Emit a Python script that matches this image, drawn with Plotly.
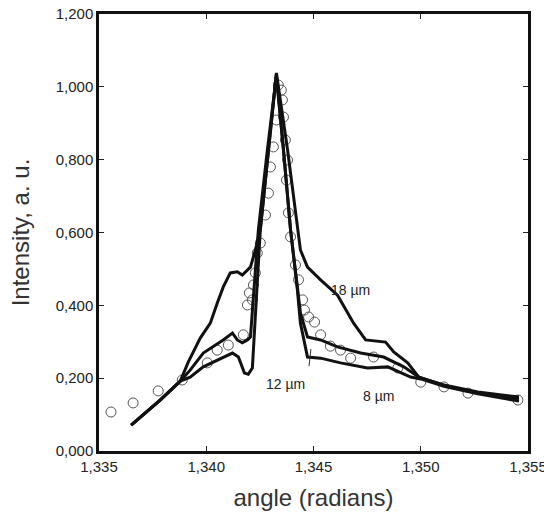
import plotly.graph_objects as go

# angle (radians) / intensity (a.u.)
x_18 = [1.33650, 1.33785, 1.33879, 1.33916, 1.33972, 1.34019, 1.34051, 1.34079,
        1.34112, 1.34145, 1.34168, 1.34206, 1.34229, 1.34252, 1.34290, 1.34327,
        1.34379, 1.34425, 1.34439, 1.34472, 1.34533, 1.34612, 1.34687, 1.34743,
        1.34836, 1.34874, 1.34939, 1.34991, 1.35108, 1.35266, 1.35458]
y_18 = [0.071, 0.140, 0.192, 0.244, 0.310, 0.351, 0.406, 0.450,
        0.489, 0.492, 0.483, 0.505, 0.552, 0.607, 0.827, 1.038,
        0.827, 0.607, 0.552, 0.505, 0.470, 0.428, 0.351, 0.305,
        0.299, 0.272, 0.242, 0.203, 0.181, 0.162, 0.148]

x_12 = [1.33650, 1.33785, 1.33879, 1.33925, 1.33986, 1.34033, 1.34079, 1.34122,
        1.34145, 1.34168, 1.34192, 1.34206, 1.34243, 1.34285, 1.34327, 1.34360,
        1.34393, 1.34421, 1.34439, 1.34472, 1.34533, 1.34612, 1.34720, 1.34827,
        1.34921, 1.34991, 1.35108, 1.35266, 1.35458]
y_12 = [0.071, 0.140, 0.192, 0.222, 0.269, 0.286, 0.305, 0.324,
        0.305, 0.297, 0.305, 0.313, 0.607, 0.827, 1.030, 0.827,
        0.607, 0.470, 0.379, 0.313, 0.305, 0.286, 0.269, 0.258,
        0.231, 0.203, 0.181, 0.159, 0.143]

x_8 = [1.33650, 1.33785, 1.33879, 1.33925, 1.33986, 1.34033, 1.34079, 1.34122,
       1.34150, 1.34178, 1.34196, 1.34215, 1.34252, 1.34290, 1.34327, 1.34360,
       1.34393, 1.34425, 1.34439, 1.34472, 1.34533, 1.34626, 1.34752, 1.34846,
       1.34953, 1.35000, 1.35108, 1.35266, 1.35458]
y_8 = [0.071, 0.140, 0.192, 0.203, 0.231, 0.244, 0.258, 0.269,
       0.258, 0.214, 0.211, 0.228, 0.607, 0.827, 1.035, 0.827,
       0.607, 0.442, 0.351, 0.258, 0.255, 0.242, 0.228, 0.231,
       0.203, 0.198, 0.178, 0.157, 0.137]

# measured points (open circles)
x_exp = [1.33556, 1.33659, 1.33776, 1.33888, 1.34005, 1.34051, 1.34103, 1.34173,
         1.34192, 1.34201, 1.34215, 1.34220, 1.34229, 1.34238, 1.34252, 1.34276,
         1.34290, 1.34299, 1.34313, 1.34327, 1.34336, 1.34350, 1.34355, 1.34360,
         1.34369, 1.34379, 1.34374, 1.34383, 1.34393, 1.34416, 1.34430, 1.34449,
         1.34458, 1.34477, 1.34505, 1.34533, 1.34579, 1.34626, 1.34673, 1.34780,
         1.34893, 1.35000, 1.35108, 1.35220, 1.35453]
y_exp = [0.107, 0.132, 0.165, 0.195, 0.242, 0.277, 0.291, 0.319,
         0.401, 0.434, 0.415, 0.456, 0.489, 0.544, 0.571, 0.648,
         0.708, 0.780, 0.835, 0.909, 1.005, 0.991, 0.964, 0.917,
         0.854, 0.799, 0.744, 0.654, 0.588, 0.511, 0.470, 0.415,
         0.387, 0.368, 0.354, 0.319, 0.288, 0.277, 0.255, 0.258,
         0.228, 0.189, 0.176, 0.159, 0.140]

labels = ["18 \u00b5m", "12 \u00b5m", "8 \u00b5m"]
label_x = [1.34673, 1.34369, 1.34804]
label_y = [0.442, 0.184, 0.151]

# small leader from the 12 um label up to its curve
leader_x = [1.34479, 1.34488]
leader_y = [0.233, 0.280]

x_ticks = [1.335, 1.340, 1.345, 1.350, 1.355]
y_ticks = [0.0, 0.2, 0.4, 0.6, 0.8, 1.0, 1.2]

fig = go.Figure()

fig.add_trace(
    go.Scatter(
        x=x_exp,
        y=y_exp,
        mode="markers",
        marker=dict(symbol="circle-open", size=10, color="#555555", line=dict(width=1)),
        showlegend=False,
    )
)

for xs, ys in [(x_18, y_18), (x_12, y_12), (x_8, y_8)]:
    fig.add_trace(
        go.Scatter(
            x=xs,
            y=ys,
            mode="lines",
            line=dict(color="#111111", width=3),
            showlegend=False,
        )
    )

for text, lx, ly in zip(labels, label_x, label_y):
    fig.add_annotation(
        x=lx, y=ly, text=text, showarrow=False,
        font=dict(family="Liberation Sans, Arial", size=14, color="#222222"),
    )

fig.add_shape(
    type="line",
    x0=leader_x[0], y0=leader_y[0], x1=leader_x[1], y1=leader_y[1],
    line=dict(color="#333333", width=1),
)

fig.update_layout(
    width=544,
    height=518,
    paper_bgcolor="white",
    plot_bgcolor="white",
    separators=",.",
    margin=dict(l=99, r=16, t=14, b=67),
    font=dict(family="Liberation Sans, Arial", color="#222222"),
)

fig.update_xaxes(
    range=[1.335, 1.355],
    tickvals=x_ticks,
    tickformat=".3f",
    ticks="inside",
    ticklen=5,
    tickwidth=1,
    tickcolor="#222222",
    showline=True,
    linewidth=2.5,
    linecolor="#111111",
    mirror="ticks",
    showgrid=False,
    zeroline=False,
    automargin=False,
    ticklabeloverflow="allow",
    tickfont=dict(size=15),
    title=dict(text="angle (radians)", font=dict(size=24, color="#333333"), standoff=16),
)

fig.update_yaxes(
    range=[0, 1.2],
    tickvals=y_ticks,
    tickformat=".3f",
    ticks="inside",
    ticklen=5,
    tickwidth=1,
    tickcolor="#222222",
    showline=True,
    linewidth=2.5,
    linecolor="#111111",
    mirror="ticks",
    showgrid=False,
    zeroline=False,
    automargin=False,
    ticklabeloverflow="allow",
    tickfont=dict(size=15),
    title=dict(text="Intensity, a. u.", font=dict(size=24, color="#333333"), standoff=20),
)

# drop the browser's default 8px body margin so the figure sits at the page corner
fig.write_html(
    "out.html",
    config={"displayModeBar": False},
    post_script="document.body.style.margin = '0';",
)
